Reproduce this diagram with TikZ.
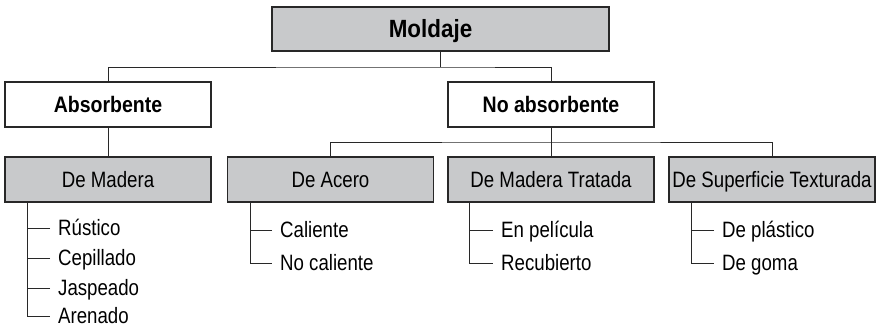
\documentclass[tikz,border=0pt]{standalone}
\usepackage{fontspec}
\setmainfont{Liberation Sans}[FakeStretch=0.84]
\newfontfamily\bfam{Liberation Sans Bold}[FakeStretch=0.87]
\newfontfamily\mfam{Liberation Sans Bold}[FakeStretch=0.90]
\definecolor{boxgray}{RGB}{200,201,203}
\definecolor{linec}{RGB}{40,40,40}
\begin{document}
\begin{tikzpicture}[x=1bp,y=-1bp,
  base/.style={draw=linec, line width=1.1bp, inner sep=0pt},
  topbox/.style={base, fill=boxgray, minimum width=337bp, minimum height=44bp, font=\fontsize{25}{28}\mfam, text height=17.9pt, text depth=0pt},
  midbox/.style={base, fill=white, minimum width=206bp, minimum height=45bp, font=\fontsize{22.5}{26}\bfam, text height=16.1pt, text depth=0pt},
  lowbox/.style={base, fill=boxgray, minimum width=206bp, minimum height=45bp, font=\fontsize{22.3}{26}\selectfont, text height=16pt, text depth=0pt},
  item/.style={anchor=west, inner ysep=0pt, inner xsep=8bp, font=\fontsize{22.3}{26}\selectfont, text height=16pt, text depth=0pt},
  conn/.style={draw=linec, line width=0.9bp}]
\useasboundingbox (0,0) rectangle (876,331);

\node[topbox] (m) at (440.5,29) {\hspace*{-20bp}Moldaje};
\node[midbox] (abs) at (108,104.5) {Absorbente};
\node[midbox] (noabs) at (551,104.5) {No absorbente};
\node[lowbox] (mad) at (108,179.5) {De Madera};
\node[lowbox] (ace) at (330.5,179.5) {De Acero};
\node[lowbox] (trat) at (551,179.5) {De Madera Tratada};
\node[lowbox] (sup) at (772,179.5) {De Superficie Texturada};

% tree connectors
\coordinate (j1) at (440,67);
\coordinate (j2) at (551,142);
\draw[conn] (m.south -| j1) -- (j1);
\draw[conn] (abs.north) |- (j1) -| (noabs.north);
\draw[conn] (noabs.south) -- (j2);
\draw[conn] (ace.north) |- (j2) -| (sup.north);
\draw[conn] (abs.south) -- (mad.north);
\draw[conn] (j2) -- (trat.north);

% list items
\coordinate (madsp) at ([xshift=23bp]mad.south west);
\node[item] (r1) at (50,228) {Rústico};
\node[item] (r2) at (50,258) {Cepillado};
\node[item] (r3) at (50,288) {Jaspeado};
\node[item] (r4) at (50,316) {Arenado};
\draw[conn] (madsp) |- (r4.west);
\foreach \n in {r1,r2,r3}{\draw[conn] (\n.west) -- (\n.west -| madsp);}

\coordinate (acesp) at ([xshift=23bp]ace.south west);
\node[item] (a1) at (272,230) {Caliente};
\node[item] (a2) at (272,263) {No caliente};
\draw[conn] (acesp) |- (a2.west);
\draw[conn] (a1.west) -- (a1.west -| acesp);

\coordinate (tratsp) at ([xshift=22bp]trat.south west);
\node[item] (t1) at (493,230) {En película};
\node[item] (t2) at (493,263) {Recubierto};
\draw[conn] (tratsp) |- (t2.west);
\draw[conn] (t1.west) -- (t1.west -| tratsp);

\coordinate (supsp) at ([xshift=23bp]sup.south west);
\node[item] (s1) at (714,230) {De plástico};
\node[item] (s2) at (714,263) {De goma};
\draw[conn] (supsp) |- (s2.west);
\draw[conn] (s1.west) -- (s1.west -| supsp);
\end{tikzpicture}
\end{document}
